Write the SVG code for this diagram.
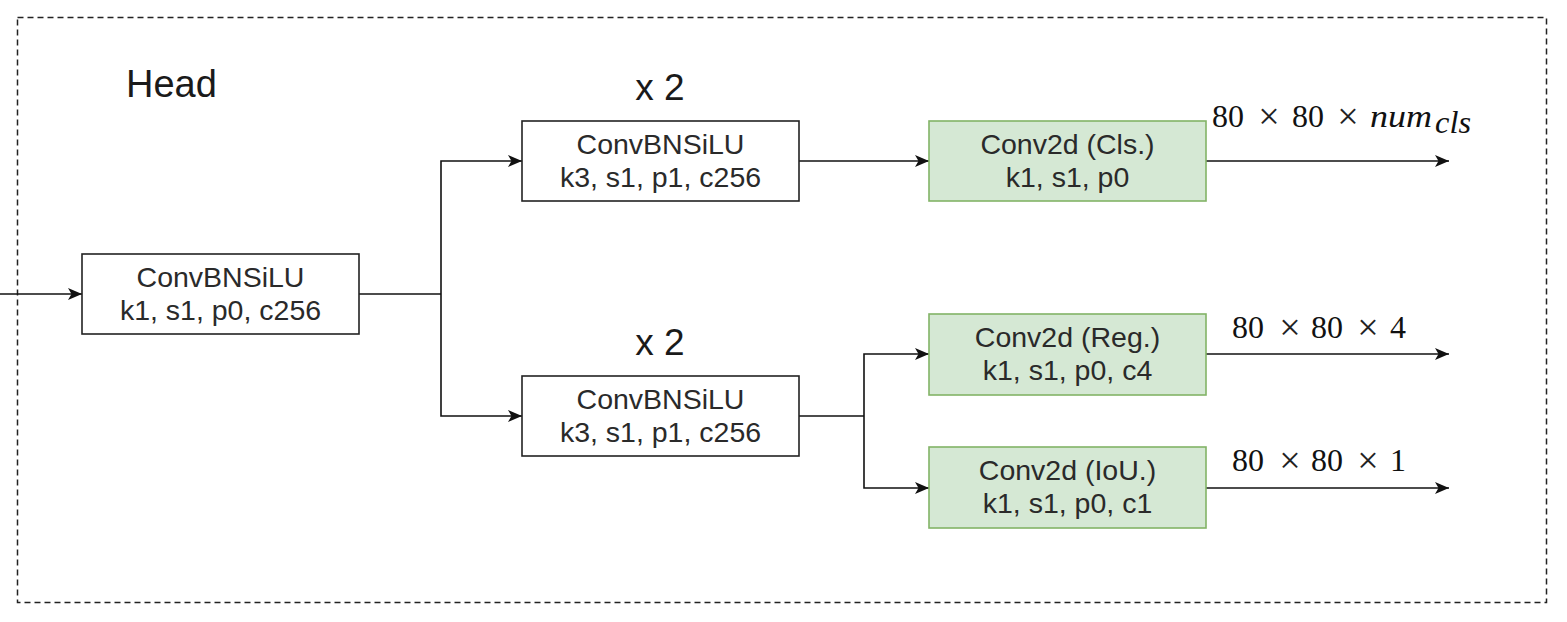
<svg xmlns="http://www.w3.org/2000/svg" width="1567" height="622" viewBox="0 0 1567 622">
<defs>
<marker id="arr" markerUnits="userSpaceOnUse" markerWidth="16" markerHeight="14" refX="14" refY="6" orient="auto">
<path d="M0,0 L14,6 L0,12 L3.5,6 Z" fill="#111"/>
</marker>
<style>
.box{fill:#ffffff;stroke:#222;stroke-width:1.6}
.gbox{fill:#d5e8d4;stroke:#82b366;stroke-width:1.6}
.t{font-family:"Liberation Sans",Arial,sans-serif;font-size:28.5px;fill:#2a2a2a;text-anchor:middle}
.lbl{font-family:"Liberation Sans",Arial,sans-serif;font-size:37px;fill:#1a1a1a}
.m{font-family:"Liberation Serif","Times New Roman",serif;font-size:32px;fill:#111}
.x{font-family:"Liberation Serif","Times New Roman",serif;font-size:38px;fill:#222;text-anchor:middle}
.c{fill:none;stroke:#111;stroke-width:1.6}
</style>
</defs>
<rect x="0" y="0" width="1567" height="622" fill="#ffffff"/>
<rect id="frame" x="17.5" y="17.5" width="1529" height="585" fill="none" stroke="#222" stroke-width="1.5" stroke-dasharray="6 4"/>
<text class="lbl" x="126" y="97" style="font-size:38px">Head</text>
<text class="lbl" x="660" y="100" text-anchor="middle">x 2</text>
<text class="lbl" x="660" y="355" text-anchor="middle">x 2</text>

<g id="connectors">
<path class="c" d="M0,294 H82" marker-end="url(#arr)"/>
<path class="c" d="M359,294 H441"/>
<path class="c" d="M441,294 V161 H522" marker-end="url(#arr)"/>
<path class="c" d="M441,294 V416 H522" marker-end="url(#arr)"/>
<path class="c" d="M799,161 H929" marker-end="url(#arr)"/>
<path class="c" d="M799,416 H864"/>
<path class="c" d="M864,416 V354 H929" marker-end="url(#arr)"/>
<path class="c" d="M864,416 V488 H929" marker-end="url(#arr)"/>
<path class="c" d="M1206,161 H1449" marker-end="url(#arr)"/>
<path class="c" d="M1206,354 H1449" marker-end="url(#arr)"/>
<path class="c" d="M1206,488 H1449" marker-end="url(#arr)"/>
</g>

<g id="convbn-in">
<rect class="box" x="82" y="254" width="277" height="80"/>
<text class="t" x="220.5" y="287">ConvBNSiLU</text>
<text class="t" x="220.5" y="320">k1, s1, p0, c256</text>
</g>
<g id="convbn-top">
<rect class="box" x="522" y="121" width="277" height="80"/>
<text class="t" x="660.5" y="154">ConvBNSiLU</text>
<text class="t" x="660.5" y="187">k3, s1, p1, c256</text>
</g>
<g id="convbn-bottom">
<rect class="box" x="522" y="376" width="277" height="80"/>
<text class="t" x="660.5" y="409">ConvBNSiLU</text>
<text class="t" x="660.5" y="442">k3, s1, p1, c256</text>
</g>
<g id="conv-cls">
<rect class="gbox" x="929" y="121" width="277" height="80"/>
<text class="t" x="1067.5" y="154">Conv2d (Cls.)</text>
<text class="t" x="1067.5" y="187">k1, s1, p0</text>
</g>
<g id="conv-reg">
<rect class="gbox" x="929" y="314" width="277" height="81"/>
<text class="t" x="1067.5" y="347">Conv2d (Reg.)</text>
<text class="t" x="1067.5" y="380">k1, s1, p0, c4</text>
</g>
<g id="conv-iou">
<rect class="gbox" x="929" y="447" width="277" height="81"/>
<text class="t" x="1067.5" y="480">Conv2d (IoU.)</text>
<text class="t" x="1067.5" y="513">k1, s1, p0, c1</text>
</g>

<g id="out-labels">
<text class="m" x="1212" y="127">80</text>
<text class="x" x="1269" y="129">×</text>
<text class="m" x="1292" y="127">80</text>
<text class="x" x="1348" y="129">×</text>
<text class="m" x="1370" y="127" font-style="italic" textLength="62" lengthAdjust="spacingAndGlyphs">num</text>
<text class="m" x="1435" y="133" font-style="italic" font-size="23" textLength="36" lengthAdjust="spacingAndGlyphs">cls</text>

<text class="m" x="1232" y="338">80</text>
<text class="x" x="1290" y="340">×</text>
<text class="m" x="1311" y="338">80</text>
<text class="x" x="1368" y="340">×</text>
<text class="m" x="1390" y="338">4</text>

<text class="m" x="1232" y="471">80</text>
<text class="x" x="1290" y="473">×</text>
<text class="m" x="1311" y="471">80</text>
<text class="x" x="1368" y="473">×</text>
<text class="m" x="1390" y="471">1</text>
</g>
</svg>
